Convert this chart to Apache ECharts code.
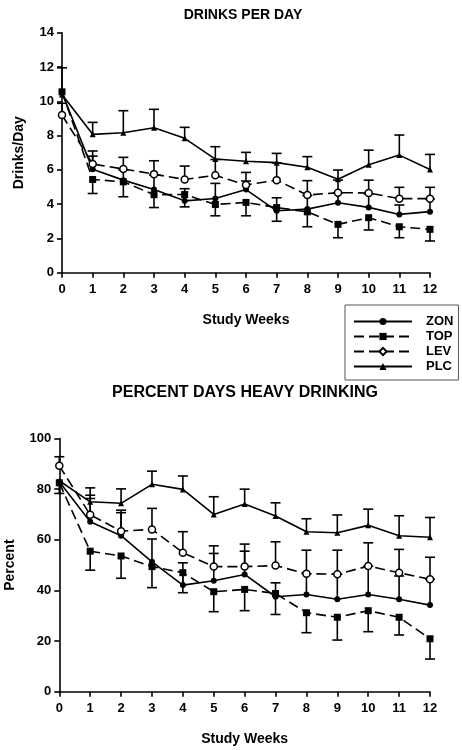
<!DOCTYPE html>
<html>
<head>
<meta charset="utf-8">
<script src="https://cdn.jsdelivr.net/npm/echarts@6/dist/echarts.min.js"></script>
<style>
html,body{margin:0;padding:0;background:#fff;}
#c{width:462px;height:750px;}
</style>
</head>
<body>
<div id="c"></div>
<script>
// ---- data ----
const weeks = [0,1,2,3,4,5,6,7,8,9,10,11,12];
const seriesNames = ['ZON','TOP','LEV','PLC'];

// Drinks per day
const zonDrinks = [10.5, 6.03, 5.4, 4.85, 4.19, 4.33, 4.85, 3.61, 3.71, 4.08, 3.81, 3.4, 3.56];
const topDrinks = [10.55, 5.44, 5.3, 4.55, 4.56, 3.98, 4.1, 3.8, 3.55, 2.82, 3.21, 2.68, 2.53];
const levDrinks = [9.2, 6.34, 6.05, 5.75, 5.44, 5.68, 5.12, 5.4, 4.53, 4.67, 4.65, 4.32, 4.32];
const plcDrinks = [10.4, 8.07, 8.16, 8.46, 7.84, 6.63, 6.5, 6.42, 6.15, 5.45, 6.3, 6.86, 6.02];
// error bar ends (upper for ZON/LEV/PLC, lower for TOP)
const zonDrinksHi = [null, 6.8, 6.0, 5.7, 4.9, 5.21, 5.35, 4.37, 4.5, 4.65, 4.6, 3.95, 4.3];
const levDrinksHi = [9.88, 7.1, 6.73, 6.53, 6.22, 6.6, 5.85, 6.4, 5.37, 5.4, 5.4, 4.98, 4.98];
const plcDrinksHi = [11.95, 8.77, 9.45, 9.53, 8.48, 7.35, 7.02, 6.96, 6.77, 5.99, 7.15, 8.03, 6.9];
const topDrinksLo = [null, 4.62, 4.43, 3.8, 3.84, 3.32, 3.32, 3.0, 2.68, 2.04, 2.49, 2.04, 1.85];

// Percent days heavy drinking
const zonHeavy = [82.9, 67.1, 61.6, 51.3, 42.1, 43.8, 46.3, 37.5, 38.4, 36.5, 38.4, 36.5, 34.2];
const topHeavy = [82.5, 55.5, 53.6, 49.4, 47.0, 39.5, 40.4, 38.8, 31.2, 29.4, 32.0, 29.4, 20.9];
const levHeavy = [89.2, 69.9, 63.4, 64.1, 54.9, 49.4, 49.4, 49.8, 46.6, 46.4, 49.6, 47.0, 44.4];
const plcHeavy = [83.3, 75.0, 74.4, 81.9, 79.9, 70.0, 74.1, 69.4, 63.2, 62.8, 65.7, 61.6, 61.0];
const zonHeavyHi = [null, 76.3, 70.7, 60.3, 50.9, 54.6, 55.5, 43.0, 46.6, 46.4, 49.6, 45.7, 44.4];
const levHeavyHi = [92.8, 77.6, 71.7, 72.4, 63.2, 57.6, 58.3, 59.2, 55.9, 55.9, 58.8, 56.2, 53.1];
const plcHeavyHi = [null, 80.5, 80.1, 87.1, 85.2, 77.0, 80.0, 74.6, 68.3, 69.8, 72.1, 69.5, 68.8];
const topHeavyLo = [78.3, 48.0, 44.8, 41.1, 39.1, 31.6, 32.0, 30.5, 23.3, 20.4, 23.7, 22.4, 12.9];

// axis ticks
const drinksAxis = {min: 0, max: 14, interval: 2};
const heavyAxis = {min: 0, max: 100, interval: 20};
const weekAxis = {min: 0, max: 12, interval: 1};

// ---- chart ----
const FONT = '"Liberation Sans", Arial, sans-serif';
const chart = echarts.init(document.getElementById('c'), null, {renderer: 'canvas'});

function pairs(vals) { return weeks.map((w, i) => [w, vals[i]]); }
function errData(vals, ends) {
  const out = [];
  weeks.forEach((w, i) => { if (ends[i] != null) out.push([w, vals[i], ends[i]]); });
  return out;
}
function errRender(params, api) {
  const x = api.value(0), a = api.value(1), b = api.value(2);
  const p1 = api.coord([x, a]), p2 = api.coord([x, b]);
  const hw = 5;
  const st = {stroke: '#000', lineWidth: 1.6};
  return {type: 'group', children: [
    {type: 'line', shape: {x1: p1[0], y1: p1[1], x2: p2[0], y2: p2[1]}, style: st},
    {type: 'line', shape: {x1: p2[0] - hw, y1: p2[1], x2: p2[0] + hw, y2: p2[1]}, style: st}
  ]};
}

const styles = {
  ZON: {symbol: 'circle', symbolSize: 6, lineStyle: {color: '#000', width: 1.6, type: 'solid'}, itemStyle: {color: '#000'}},
  TOP: {symbol: 'rect', symbolSize: 7, lineStyle: {color: '#000', width: 1.6, type: [10, 5]}, itemStyle: {color: '#000'}},
  LEV: {symbol: 'circle', symbolSize: 7, lineStyle: {color: '#000', width: 1.6, type: [10, 5]}, itemStyle: {color: '#fff', borderColor: '#000', borderWidth: 1.5}},
  PLC: {symbol: 'triangle', symbolSize: 6, lineStyle: {color: '#000', width: 1.6, type: 'solid'}, itemStyle: {color: '#000'}}
};

function lineSeries(name, vals, gi) {
  const s = styles[name];
  return {
    name: name, type: 'line', xAxisIndex: gi, yAxisIndex: gi,
    data: pairs(vals), symbol: s.symbol, symbolSize: s.symbolSize,
    showAllSymbol: true, lineStyle: s.lineStyle, itemStyle: s.itemStyle,
    z: 3, animation: false, emphasis: {disabled: true}
  };
}
function errSeries(name, vals, ends, gi) {
  return {
    name: name + ' err', type: 'custom', xAxisIndex: gi, yAxisIndex: gi,
    data: errData(vals, ends), renderItem: errRender,
    encode: {x: 0, y: [1, 2]}, z: 2, animation: false, silent: true
  };
}
// legend-only entry for LEV (diamond icon as in the key)
const levLegendEntry = {
  name: 'LEV', type: 'line', xAxisIndex: 0, yAxisIndex: 0, data: [],
  symbol: 'diamond', symbolSize: 9,
  lineStyle: styles.LEV.lineStyle, itemStyle: styles.LEV.itemStyle, animation: false
};

const axisLabel = {color: '#000', fontFamily: FONT, fontWeight: 'bold', fontSize: 13};
const axisLine = {show: true, lineStyle: {color: '#000', width: 1.6}};
const axisTick = {show: true, length: 5, lineStyle: {color: '#000', width: 1.6}};

function xAx(gi) {
  return {
    type: 'value', gridIndex: gi, min: weekAxis.min, max: weekAxis.max, interval: weekAxis.interval,
    axisLine: axisLine, axisTick: axisTick, splitLine: {show: false},
    axisLabel: Object.assign({margin: 10}, axisLabel),
    name: 'Study Weeks', nameLocation: 'middle', nameGap: 40,
    nameTextStyle: {color: '#000', fontFamily: FONT, fontWeight: 'bold', fontSize: 14}
  };
}
function yAx(gi, ax, name, gap) {
  return {
    type: 'value', gridIndex: gi, min: ax.min, max: ax.max, interval: ax.interval,
    axisLine: axisLine, axisTick: axisTick, splitLine: {show: false},
    axisLabel: Object.assign({margin: 8}, axisLabel),
    name: name, nameLocation: 'middle', nameGap: gap, nameRotate: 90,
    nameTextStyle: {color: '#000', fontFamily: FONT, fontWeight: 'bold', fontSize: 14}
  };
}

const option = {
  backgroundColor: '#fff',
  animation: false,
  title: [
    {text: 'DRINKS PER DAY', left: 238, top: 3, textAlign: 'center',
     textStyle: {fontFamily: FONT, fontWeight: 'bold', fontSize: 14, color: '#000'}},
    {text: 'PERCENT DAYS HEAVY DRINKING', left: 240, top: 380, textAlign: 'center',
     textStyle: {fontFamily: FONT, fontWeight: 'bold', fontSize: 16, color: '#000'}}
  ],
  legend: {
    orient: 'vertical', left: 345, top: 305,
    padding: [10, 5, 7, 8], itemGap: 2, itemWidth: 58, itemHeight: 9,
    borderColor: '#555', borderWidth: 1, backgroundColor: '#fff',
    selectedMode: false,
    textStyle: {fontFamily: FONT, fontWeight: 'bold', fontSize: 13, color: '#000', lineHeight: 13, padding: [0, 0, 0, 9]},
    data: ['ZON', 'TOP', 'LEV', 'PLC']
  },
  grid: [
    {left: 62, right: 32, top: 32.7, height: 240, outerBoundsMode: 'none'},
    {left: 59.3, right: 32, top: 438.5, height: 253.2, outerBoundsMode: 'none'}
  ],
  xAxis: [xAx(0), xAx(1)],
  yAxis: [yAx(0, drinksAxis, 'Drinks/Day', 36), yAx(1, heavyAxis, 'Percent', 42)],
  series: [
    levLegendEntry,
    errSeries('ZON', zonDrinks, zonDrinksHi, 0),
    errSeries('TOP', topDrinks, topDrinksLo, 0),
    errSeries('LEV', levDrinks, levDrinksHi, 0),
    errSeries('PLC', plcDrinks, plcDrinksHi, 0),
    lineSeries('ZON', zonDrinks, 0),
    lineSeries('TOP', topDrinks, 0),
    lineSeries('LEV', levDrinks, 0),
    lineSeries('PLC', plcDrinks, 0),
    errSeries('ZON', zonHeavy, zonHeavyHi, 1),
    errSeries('TOP', topHeavy, topHeavyLo, 1),
    errSeries('LEV', levHeavy, levHeavyHi, 1),
    errSeries('PLC', plcHeavy, plcHeavyHi, 1),
    lineSeries('ZON', zonHeavy, 1),
    lineSeries('TOP', topHeavy, 1),
    lineSeries('LEV', levHeavy, 1),
    lineSeries('PLC', plcHeavy, 1)
  ]
};
chart.setOption(option);
</script>
</body>
</html>
